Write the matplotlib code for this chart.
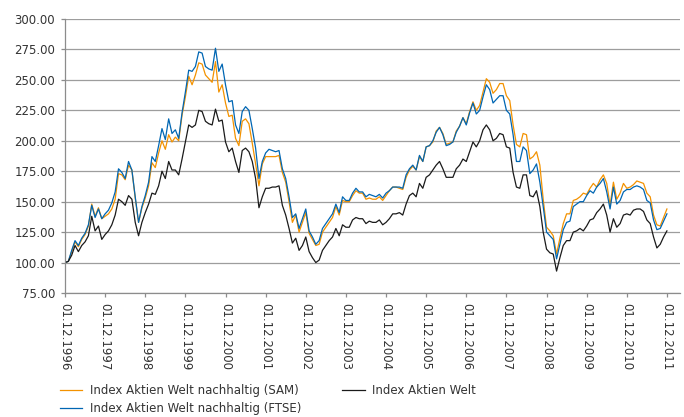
import matplotlib
matplotlib.use("Agg")
import matplotlib.pyplot as plt
import numpy as np

plt.rcParams['font.family'] = ['DejaVu Sans']

# monthly values, 01.12.1996 .. 01.12.2011
sam = [100, 101, 109, 117, 113, 119, 123, 130, 148, 138,
       145, 136, 138, 140, 144, 152, 173, 172, 168, 180,
       176, 153, 133, 145, 153, 163, 182, 178, 190, 200,
       193, 205, 199, 203, 200, 221, 236, 253, 246, 254,
       264, 263, 254, 251, 248, 265, 240, 246, 231, 220,
       221, 202, 196, 216, 218, 214, 198, 181, 163, 181,
       187, 187, 187, 187, 188, 174, 166, 150, 133, 139,
       125, 133, 141, 124, 119, 114, 115, 125, 129, 133,
       137, 146, 139, 151, 150, 150, 155, 159, 157, 157,
       152, 153, 152, 152, 154, 151, 155, 159, 162, 162,
       161, 160, 170, 176, 179, 176, 187, 183, 195, 196,
       199, 208, 211, 206, 197, 198, 199, 208, 212, 219,
       214, 224, 232, 225, 229, 240, 251, 248, 239, 242,
       247, 247, 237, 233, 213, 197, 195, 206, 205, 185,
       187, 191, 180, 152, 129, 126, 122, 107, 120, 132,
       140, 140, 151, 152, 154, 157, 156, 161, 165, 162,
       168, 172, 165, 147, 166, 152, 157, 165, 161, 162,
       164, 167, 166, 165, 157, 154, 139, 131, 130, 137, 144]

ftse = [100, 101, 110, 118, 114, 120, 124, 131, 147, 137,
        144, 136, 140, 143, 149, 158, 177, 174, 169, 183,
        176, 154, 133, 146, 155, 166, 187, 183, 196, 210,
        201, 218, 206, 209, 202, 223, 240, 258, 257, 261,
        273, 272, 261, 259, 258, 276, 257, 263, 246, 232,
        233, 213, 206, 224, 228, 225, 210, 194, 169, 183,
        190, 193, 192, 191, 192, 177, 169, 154, 137, 140,
        128, 136, 144, 126, 121, 115, 118, 128, 132, 136,
        140, 148, 141, 154, 151, 151, 157, 161, 158, 158,
        154, 156, 155, 154, 156, 153, 157, 159, 162, 162,
        162, 161, 172, 177, 180, 176, 188, 183, 195, 196,
        200, 207, 211, 205, 196, 197, 199, 207, 212, 219,
        213, 223, 231, 222, 225, 236, 246, 242, 231, 234,
        237, 237, 225, 222, 205, 183, 183, 195, 192, 173,
        176, 181, 166, 146, 125, 122, 119, 103, 115, 127,
        133, 134, 146, 148, 150, 150, 155, 159, 157, 162,
        165, 169, 158, 144, 162, 148, 151, 158, 160, 160,
        162, 163, 162, 160, 151, 149, 135, 127, 128, 134, 140]

welt = [100, 101, 106, 114, 109, 114, 117, 122, 138, 126,
        130, 119, 123, 126, 131, 139, 152, 150, 147, 155,
        152, 133, 122, 133, 141, 148, 157, 156, 163, 175,
        169, 183, 176, 176, 172, 185, 199, 213, 211, 213,
        225, 224, 216, 214, 213, 226, 216, 217, 199, 191,
        194, 183, 174, 192, 194, 191, 183, 169, 145, 154,
        161, 161, 162, 162, 163, 147, 139, 128, 116, 120,
        110, 114, 121, 109, 104, 100, 102, 110, 114, 118,
        121, 128, 122, 131, 129, 129, 135, 137, 136, 136,
        132, 134, 133, 133, 135, 131, 133, 136, 140, 140,
        141, 139, 148, 155, 157, 154, 165, 161, 170, 172,
        176, 180, 183, 177, 170, 170, 170, 177, 180, 185,
        183, 191, 199, 195, 200, 209, 213, 209, 200, 202,
        206, 205, 195, 194, 174, 162, 161, 172, 172, 155,
        154, 159, 146, 125, 111, 108, 107, 93, 104, 114,
        118, 118, 125, 126, 128, 126, 130, 135, 136, 141,
        144, 148, 139, 125, 136, 129, 132, 139, 140, 139,
        143, 144, 144, 142, 135, 132, 121, 112, 115, 121, 126]

year_labels = ['01.12.%d' % y for y in range(1996, 2012)]

months = np.arange(len(welt))

fig = plt.figure(figsize=(6.84, 4.17), dpi=100)
ax = fig.add_axes([65 / 684, 1 - 293 / 417, 615 / 684, 274 / 417])

ax.plot(months, sam, color='#f39200', lw=0.9, label='Index Aktien Welt nachhaltig (SAM)')
ax.plot(months, ftse, color='#0066b3', lw=0.9, label='Index Aktien Welt nachhaltig (FTSE)')
ax.plot(months, welt, color='#1a1a1a', lw=0.9, label='Index Aktien Welt')

ax.set_xlim(0, 615 / 3.344)
ax.set_ylim(75, 300)
ax.set_yticks(np.arange(75, 301, 25))
ax.set_yticklabels(['%.2f' % v for v in np.arange(75, 301, 25)])
ax.set_xticks(months[::12])
ax.set_xticklabels(year_labels, rotation=-90)

ax.grid(axis='y', color='#9d9d9d', lw=0.9)
ax.set_axisbelow(True)
for s in ['top', 'right']:
    ax.spines[s].set_visible(False)
for s in ['left', 'bottom']:
    ax.spines[s].set_color('#8c8c8c')
    ax.spines[s].set_linewidth(0.9)
ax.tick_params(axis='both', colors='#8c8c8c', labelcolor='#333333',
               labelsize=8.5, length=3, width=0.9, pad=4)

handles, labels = ax.get_legend_handles_labels()
fig.legend(handles, labels, loc='upper left', ncol=2,
           bbox_to_anchor=(60 / 684, 1 - 384 / 417), frameon=False,
           fontsize=8.5, handlelength=1.9, handletextpad=0.6,
           columnspacing=3.5, labelspacing=0.45, borderpad=0,
           borderaxespad=0, labelcolor='#333333')

fig.savefig('out.png', dpi=100)
